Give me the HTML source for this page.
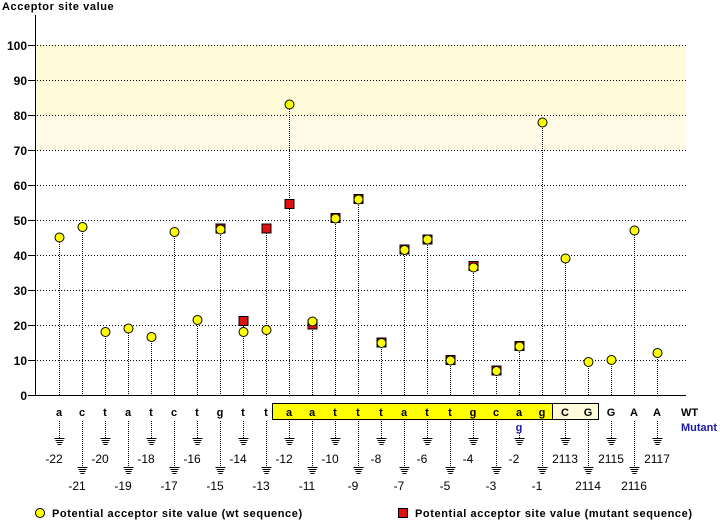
<!DOCTYPE html>
<html><head><meta charset="utf-8"><style>
body{margin:0;background:#fff}
svg{display:block}
.b{font-family:"Liberation Sans",sans-serif;font-weight:bold;font-size:11px}
.y{font-family:"Liberation Sans",sans-serif;font-weight:bold;font-size:12px}
.l{font-family:"Liberation Sans",sans-serif;font-weight:bold;font-size:11px;letter-spacing:0.6px}
.n{font-family:"Liberation Sans",sans-serif;font-size:12px}
</style></head><body>
<svg width="720" height="520" xmlns="http://www.w3.org/2000/svg" shape-rendering="crispEdges">
<defs>
<g id="gnd" stroke="#000"><line x1="-4.5" y1="0.5" x2="5.5" y2="0.5"/><line x1="-3.5" y1="2.5" x2="4.5" y2="2.5"/><line x1="-2.5" y1="4.5" x2="3.5" y2="4.5"/><line x1="-1.5" y1="6.5" x2="2.5" y2="6.5"/></g>
</defs>
<rect x="36" y="45" width="650" height="70" fill="#fffad8"/>
<rect x="36" y="115" width="650" height="35" fill="#fffbe6"/>
<g stroke="#000" stroke-dasharray="1,2">
<line x1="37" y1="45.5" x2="686" y2="45.5"/><line x1="37" y1="80.5" x2="686" y2="80.5"/><line x1="37" y1="115.5" x2="686" y2="115.5"/><line x1="37" y1="150.5" x2="686" y2="150.5"/><line x1="37" y1="185.5" x2="686" y2="185.5"/><line x1="37" y1="220.5" x2="686" y2="220.5"/><line x1="37" y1="255.5" x2="686" y2="255.5"/><line x1="37" y1="290.5" x2="686" y2="290.5"/><line x1="37" y1="325.5" x2="686" y2="325.5"/><line x1="37" y1="360.5" x2="686" y2="360.5"/>
</g>
<g stroke="#000">
<line x1="28" y1="45.5" x2="35" y2="45.5"/><line x1="28" y1="80.5" x2="35" y2="80.5"/><line x1="28" y1="115.5" x2="35" y2="115.5"/><line x1="28" y1="150.5" x2="35" y2="150.5"/><line x1="28" y1="185.5" x2="35" y2="185.5"/><line x1="28" y1="220.5" x2="35" y2="220.5"/><line x1="28" y1="255.5" x2="35" y2="255.5"/><line x1="28" y1="290.5" x2="35" y2="290.5"/><line x1="28" y1="325.5" x2="35" y2="325.5"/><line x1="28" y1="360.5" x2="35" y2="360.5"/>
<line x1="35.5" y1="15" x2="35.5" y2="396"/>
<line x1="28" y1="395.5" x2="686" y2="395.5"/>
</g>
<path stroke="#000" stroke-dasharray="1,1" fill="none" d="M59.5 238V395M82.5 227V395M105.5 332V395M128.5 329V395M151.5 337V395M174.5 232V395M197.5 320V395M220.5 229V395M243.5 322V395M266.5 229V395M289.5 105V395M312.5 322V395M335.5 218V395M358.5 199V395M381.5 343V395M404.5 250V395M427.5 239V395M450.5 360V395M473.5 267V395M496.5 371V395M519.5 346V395M542.5 122V395M565.5 259V395M588.5 362V395M611.5 360V395M634.5 231V395M657.5 353V395
M59.5 421V438M82.5 421V467M105.5 421V438M128.5 421V467M151.5 421V438M174.5 421V467M197.5 421V438M220.5 421V467M243.5 421V438M266.5 421V467M289.5 421V438M312.5 421V467M335.5 421V438M358.5 421V467M381.5 421V438M404.5 421V467M427.5 421V438M450.5 421V467M473.5 421V438M496.5 421V467M519.5 433V438M542.5 421V467M565.5 421V438M588.5 421V467M611.5 421V438M634.5 421V467M657.5 421V438"/>
<use href="#gnd" x="59" y="438"/><use href="#gnd" x="82" y="467"/><use href="#gnd" x="105" y="438"/><use href="#gnd" x="128" y="467"/><use href="#gnd" x="151" y="438"/><use href="#gnd" x="174" y="467"/><use href="#gnd" x="197" y="438"/><use href="#gnd" x="220" y="467"/><use href="#gnd" x="243" y="438"/><use href="#gnd" x="266" y="467"/><use href="#gnd" x="289" y="438"/><use href="#gnd" x="312" y="467"/><use href="#gnd" x="335" y="438"/><use href="#gnd" x="358" y="467"/><use href="#gnd" x="381" y="438"/><use href="#gnd" x="404" y="467"/><use href="#gnd" x="427" y="438"/><use href="#gnd" x="450" y="467"/><use href="#gnd" x="473" y="438"/><use href="#gnd" x="496" y="467"/><use href="#gnd" x="519" y="438"/><use href="#gnd" x="542" y="467"/><use href="#gnd" x="565" y="438"/><use href="#gnd" x="588" y="467"/><use href="#gnd" x="611" y="438"/><use href="#gnd" x="634" y="467"/><use href="#gnd" x="657" y="438"/>
<g fill="#dd1111" stroke="#000" shape-rendering="auto">
<rect x="216" y="224" width="9" height="9"/><rect x="239" y="316.5" width="9" height="9"/><rect x="262" y="224" width="9" height="9"/><rect x="285" y="199.5" width="9" height="9"/><rect x="308" y="320" width="9" height="9"/><rect x="331" y="213.5" width="9" height="9"/><rect x="354" y="194.5" width="9" height="9"/><rect x="377" y="338" width="9" height="9"/><rect x="400" y="245" width="9" height="9"/><rect x="423" y="235" width="9" height="9"/><rect x="446" y="355.5" width="9" height="9"/><rect x="469" y="261.5" width="9" height="9"/><rect x="492" y="366" width="9" height="9"/><rect x="515" y="341.5" width="9" height="9"/>
</g>
<g fill="#ffff00" stroke="#000" shape-rendering="auto">
<circle cx="59.5" cy="237.5" r="4.5"/><circle cx="82.5" cy="227" r="4.5"/><circle cx="105.5" cy="332" r="4.5"/><circle cx="128.5" cy="328.5" r="4.5"/><circle cx="151.5" cy="337" r="4.5"/><circle cx="174.5" cy="232" r="4.5"/><circle cx="197.5" cy="320" r="4.5"/><circle cx="220.5" cy="229.5" r="4.5"/><circle cx="243.5" cy="332" r="4.5"/><circle cx="266.5" cy="330" r="4.5"/><circle cx="289.5" cy="104.5" r="4.5"/><circle cx="312.5" cy="321.5" r="4.5"/><circle cx="335.5" cy="218.5" r="4.5"/><circle cx="358.5" cy="199.5" r="4.5"/><circle cx="381.5" cy="343" r="4.5"/><circle cx="404.5" cy="250" r="4.5"/><circle cx="427.5" cy="239.5" r="4.5"/><circle cx="450.5" cy="360.5" r="4.5"/><circle cx="473.5" cy="267.5" r="4.5"/><circle cx="496.5" cy="371" r="4.5"/><circle cx="519.5" cy="346.5" r="4.5"/><circle cx="542.5" cy="122.5" r="4.5"/><circle cx="565.5" cy="258.5" r="4.5"/><circle cx="588.5" cy="362" r="4.5"/><circle cx="611.5" cy="360" r="4.5"/><circle cx="634.5" cy="230.5" r="4.5"/><circle cx="657.5" cy="353" r="4.5"/>
</g>
<text class="l" x="2" y="10">Acceptor site value</text>
<g class="y" text-anchor="end">
<text x="27" y="50">100</text><text x="27" y="85">90</text><text x="27" y="120">80</text><text x="27" y="155">70</text><text x="27" y="190">60</text><text x="27" y="225">50</text><text x="27" y="260">40</text><text x="27" y="295">30</text><text x="27" y="330">20</text><text x="27" y="365">10</text><text x="27" y="400">0</text>
</g>
<rect x="272.5" y="403.5" width="280" height="16" fill="#ffff00" stroke="#000"/>
<rect x="552.5" y="403.5" width="46" height="16" fill="#fffbd8" stroke="#000"/>
<g class="b" text-anchor="middle">
<text x="59" y="416">a</text><text x="82" y="416">c</text><text x="105" y="416">t</text><text x="128" y="416">a</text><text x="151" y="416">t</text><text x="174" y="416">c</text><text x="197" y="416">t</text><text x="220" y="416">g</text><text x="243" y="416">t</text><text x="266" y="416">t</text><text x="289" y="416">a</text><text x="312" y="416">a</text><text x="335" y="416">t</text><text x="358" y="416">t</text><text x="381" y="416">t</text><text x="404" y="416">a</text><text x="427" y="416">t</text><text x="450" y="416">t</text><text x="473" y="416">g</text><text x="496" y="416">c</text><text x="519" y="416">a</text><text x="542" y="416">g</text><text x="565" y="416">C</text><text x="588" y="416">G</text><text x="611" y="416">G</text><text x="634" y="416">A</text><text x="657" y="416">A</text>
<text x="519" y="431" fill="#1a1aa8">g</text>
</g>
<text class="b" x="681" y="416">WT</text>
<text class="b" x="681" y="431" fill="#1a1aa8">Mutant</text>
<g class="n" text-anchor="middle">
<text x="54" y="463">-22</text><text x="77" y="490">-21</text><text x="100" y="463">-20</text><text x="123" y="490">-19</text><text x="146" y="463">-18</text><text x="169" y="490">-17</text><text x="192" y="463">-16</text><text x="215" y="490">-15</text><text x="238" y="463">-14</text><text x="261" y="490">-13</text><text x="284" y="463">-12</text><text x="307" y="490">-11</text><text x="330" y="463">-10</text><text x="353" y="490">-9</text><text x="376" y="463">-8</text><text x="399" y="490">-7</text><text x="422" y="463">-6</text><text x="445" y="490">-5</text><text x="468" y="463">-4</text><text x="491" y="490">-3</text><text x="514" y="463">-2</text><text x="537" y="490">-1</text><text x="565" y="463">2113</text><text x="588" y="490">2114</text><text x="611" y="463">2115</text><text x="634" y="490">2116</text><text x="657" y="463">2117</text>
</g>
<circle cx="40" cy="513" r="4.5" fill="#ffff00" stroke="#000" shape-rendering="auto"/>
<text class="l" x="52" y="517">Potential acceptor site value (wt sequence)</text>
<rect x="398.5" y="508.5" width="9" height="9" fill="#dd1111" stroke="#000"/>
<text class="l" x="415" y="517">Potential acceptor site value (mutant sequence)</text>
</svg>
</body></html>
